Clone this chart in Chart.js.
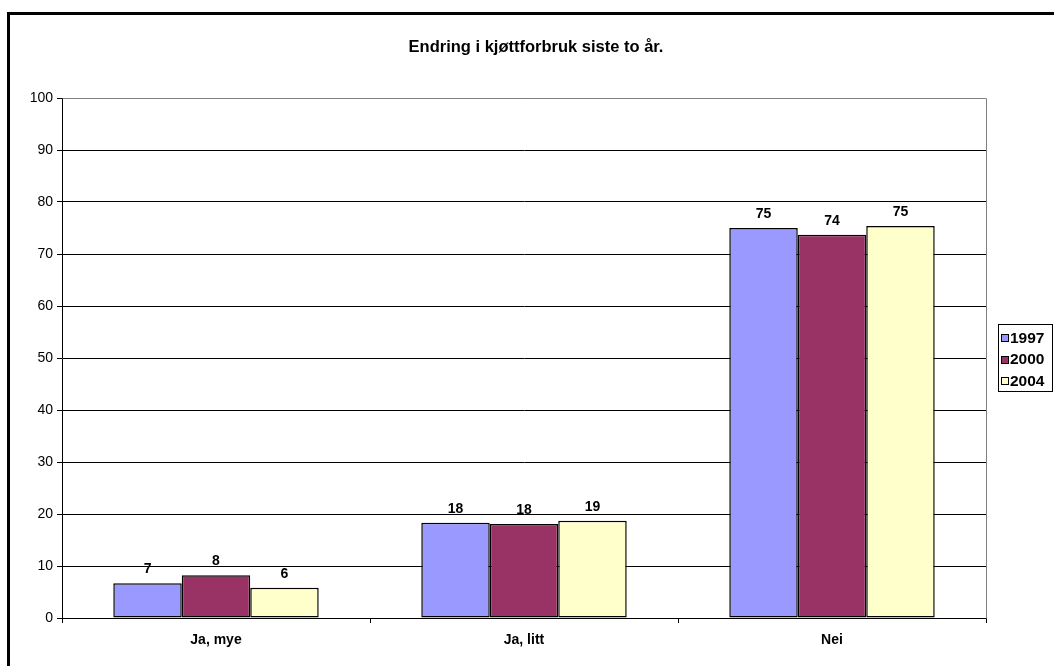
<!DOCTYPE html>
<html>
<head>
<meta charset="utf-8">
<script src="https://cdn.jsdelivr.net/npm/chart.js@4"></script>
<style>
  html, body { margin: 0; padding: 0; background: #fff; }
  #wrap { width: 1054px; height: 666px; position: relative; }
</style>
</head>
<body>
<div id="wrap"><canvas id="c" width="1054" height="666"></canvas></div>
<script>
// Svar på spørsmålet om endring i kjøttforbruk, prosent
const categories = ['Ja, mye', 'Ja, litt', 'Nei'];
const years = ['1997', '2000', '2004'];
const values1997 = [6.7, 18.3, 75.0];
const values2000 = [8.2, 18.1, 73.7];
const values2004 = [5.8, 18.7, 75.4];
const yTicks = [0, 10, 20, 30, 40, 50, 60, 70, 80, 90, 100];
const titleText = 'Endring i kjøttforbruk siste to år.';

const colors = ['#9999FF', '#993366', '#FFFFCC'];
const FONT = "'Liberation Sans', Arial, sans-serif";

// white page with the heavy black frame round the chart object
const framePlugin = {
  id: 'frame',
  beforeDraw(chart) {
    const ctx = chart.ctx;
    ctx.save();
    ctx.fillStyle = '#fff';
    ctx.fillRect(0, 0, chart.width, chart.height);
    ctx.strokeStyle = '#000';
    ctx.lineWidth = 3;
    ctx.strokeRect(8.5, 13.5, chart.width + 20, chart.height + 20);
    ctx.restore();
  }
};

// grey border on the top and right of the plot area
const plotBorderPlugin = {
  id: 'plotBorder',
  afterDatasetsDraw(chart) {
    const a = chart.chartArea;
    const ctx = chart.ctx;
    ctx.save();
    ctx.strokeStyle = '#808080';
    ctx.lineWidth = 1;
    ctx.beginPath();
    ctx.moveTo(Math.round(a.left) + 0.5, Math.round(a.top) + 0.5);
    ctx.lineTo(Math.round(a.right) + 0.5, Math.round(a.top) + 0.5);
    ctx.lineTo(Math.round(a.right) + 0.5, Math.round(a.bottom) + 0.5);
    ctx.stroke();
    ctx.restore();
  }
};

// rounded value above every bar
const valueLabelPlugin = {
  id: 'valueLabels',
  afterDatasetsDraw(chart) {
    const ctx = chart.ctx;
    ctx.save();
    ctx.font = 'bold 14px ' + FONT;
    ctx.fillStyle = '#000';
    ctx.textAlign = 'center';
    ctx.textBaseline = 'alphabetic';
    chart.data.datasets.forEach((ds, i) => {
      chart.getDatasetMeta(i).data.forEach((bar, j) => {
        ctx.fillText(String(Math.round(ds.data[j])), bar.x, bar.y - 10);
      });
    });
    ctx.restore();
  }
};

// chart title centred above the plot
const titlePlugin = {
  id: 'titleText',
  afterDraw(chart) {
    const ctx = chart.ctx;
    ctx.save();
    ctx.font = 'bold 16.5px ' + FONT;
    ctx.fillStyle = '#000';
    ctx.textAlign = 'center';
    ctx.textBaseline = 'middle';
    ctx.fillText(titleText, 536, 47);
    ctx.restore();
  }
};

// boxed legend to the right of the plot
const legendBoxPlugin = {
  id: 'legendBox',
  afterDraw(chart) {
    const ctx = chart.ctx;
    const a = chart.chartArea;
    const x0 = Math.round(a.right) + 12;
    const y0 = 324;
    const w = 54, h = 67;
    ctx.save();
    ctx.fillStyle = '#fff';
    ctx.fillRect(x0, y0, w, h);
    ctx.strokeStyle = '#000';
    ctx.lineWidth = 1;
    ctx.strokeRect(x0 + 0.5, y0 + 0.5, w, h);
    ctx.font = 'bold 15.5px ' + FONT;
    ctx.textAlign = 'left';
    ctx.textBaseline = 'middle';
    chart.data.datasets.forEach((ds, i) => {
      const cy = y0 + 14 + i * 21.5;
      ctx.fillStyle = ds.backgroundColor;
      ctx.fillRect(x0 + 3, Math.round(cy - 4), 7, 7);
      ctx.strokeStyle = '#000';
      ctx.strokeRect(x0 + 3.5, Math.round(cy - 4) + 0.5, 7, 7);
      ctx.fillStyle = '#000';
      ctx.fillText(ds.label, x0 + 12, cy + 0.5);
    });
    ctx.restore();
  }
};

const seriesValues = [values1997, values2000, values2004];

new Chart(document.getElementById('c'), {
  type: 'bar',
  data: {
    labels: categories,
    datasets: years.map((y, i) => ({
      label: y,
      data: seriesValues[i],
      backgroundColor: colors[i],
      borderColor: '#000',
      borderWidth: 1.5,
      borderSkipped: false,
      categoryPercentage: 0.667,
      barPercentage: 1.0
    }))
  },
  options: {
    responsive: false,
    animation: false,
    devicePixelRatio: 1,
    layout: { padding: { top: 98, right: 68, left: 0, bottom: 0 } },
    plugins: {
      legend: { display: false },
      title: { display: false },
      tooltip: { enabled: false }
    },
    scales: {
      x: {
        offset: true,
        grid: {
          display: true,
          drawOnChartArea: false,
          drawTicks: true,
          tickLength: 5,
          color: '#000',
          offset: true
        },
        border: { display: true, color: '#000', width: 1 },
        ticks: {
          color: '#000',
          font: { family: FONT, size: 14, weight: 'bold' },
          padding: 9,
          maxRotation: 0
        },
        afterFit(scale) { scale.height = 48; }
      },
      y: {
        min: 0,
        max: 100,
        afterBuildTicks(scale) { scale.ticks = yTicks.map(v => ({ value: v })); },
        grid: {
          color: ctx => (ctx.tick && ctx.tick.value === 100 ? '#808080' : '#000'),
          lineWidth: 1,
          drawTicks: true,
          tickLength: 5,
          tickColor: '#000'
        },
        border: { display: true, color: '#000', width: 1 },
        ticks: {
          color: '#000',
          font: { family: FONT, size: 14 },
          padding: 4
        },
        afterFit(scale) { scale.width = 62; }
      }
    }
  },
  plugins: [framePlugin, plotBorderPlugin, valueLabelPlugin, titlePlugin, legendBoxPlugin]
});
</script>
</body>
</html>
